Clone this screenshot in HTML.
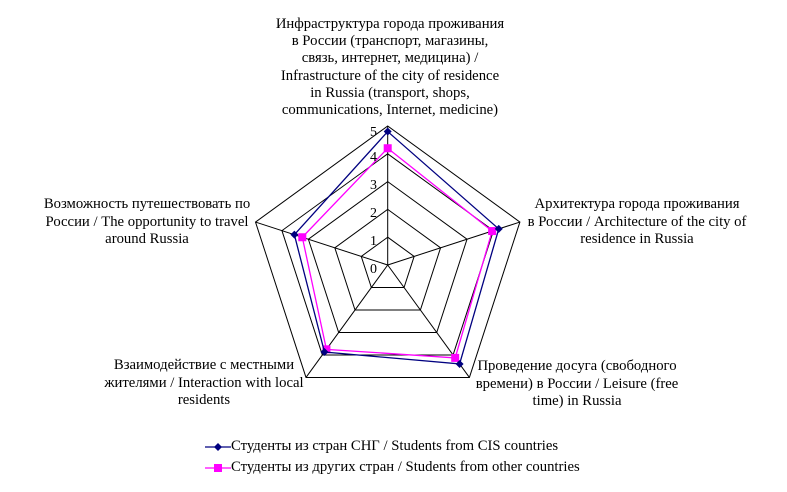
<!DOCTYPE html>
<html><head><meta charset="utf-8"><style>
html,body{margin:0;padding:0;background:#fff;}
body{width:787px;height:492px;position:relative;overflow:hidden;font-family:"Liberation Serif","DejaVu Serif",serif;color:#000;}
.l{position:absolute;font-size:14.7px;line-height:17.5px;text-align:center;white-space:nowrap;transform:translateX(-50%);font-family:"Liberation Serif",serif;}
svg{position:absolute;left:0;top:0;}
</style></head><body>
<svg id="s" width="787" height="492" viewBox="0 0 787 492">
<g font-family="Liberation Serif, serif" font-size="14" text-anchor="end">
<text x="377" y="136">5</text>
<text x="377" y="161">4</text>
<text x="377" y="189">3</text>
<text x="377" y="217">2</text>
<text x="377" y="245">1</text>
<text x="377" y="273">0</text>
</g>
</svg>
<div class="l" style="left:390px;top:16px;line-height:17.2px">Инфраструктура города проживания<br>в России (транспорт, магазины,<br>связь, интернет, медицина) /<br>Infrastructure of the city of residence<br>in Russia (transport, shops,<br>communications, Internet, medicine)</div>
<div class="l" style="left:637px;top:196px">Архитектура города проживания<br>в России / Architecture of the city of<br>residence in Russia</div>
<div class="l" style="left:147px;top:196px">Возможность путешествовать по<br>России / The opportunity to travel<br>around Russia</div>
<div class="l" style="left:204px;top:357px">Взаимодействие с местными<br>жителями / Interaction with local<br>residents</div>
<div class="l" style="left:474px;top:358px;transform:none;text-align:center;width:206px">Проведение досуга (свободного<br>времени) в России / Leisure (free<br>time) in Russia</div>
<div class="l" style="left:231px;top:438px;transform:none;text-align:left">Студенты из стран СНГ / Students from CIS countries</div>
<div class="l" style="left:231px;top:459px;transform:none;text-align:left">Студенты из других стран / Students from other countries</div>
<script>
var s=document.getElementById('s'),NS='http://www.w3.org/2000/svg';
var cx=387.7,cy=265,R=139;
function pt(i,v){var a=(-90+72*i)*Math.PI/180;return [cx+R*v/5*Math.cos(a),cy+R*v/5*Math.sin(a)];}
function el(t,a){var e=document.createElementNS(NS,t);for(var k in a)e.setAttribute(k,a[k]);s.insertBefore(e,s.firstChild);return e;}
var g=[];
for(var r=1;r<=5;r++){var p=[];for(var i=0;i<5;i++)p.push(pt(i,r).join(','));g.push(['polygon',{points:p.join(' '),fill:'none',stroke:'#000','stroke-width':1}]);}
for(var i=0;i<5;i++){var q=pt(i,5);g.push(['line',{x1:cx,y1:cy,x2:q[0],y2:q[1],stroke:'#000','stroke-width':1}]);}
var cis=[4.8,4.2,4.4,3.87,3.53],oth=[4.2,3.95,4.13,3.75,3.23];
function series(d,c,mk){var p=[];for(var i=0;i<5;i++)p.push(pt(i,d[i]).join(','));g.push(['polygon',{points:p.join(' '),fill:'none',stroke:c,'stroke-width':1.3}]);
for(var i=0;i<5;i++){var q=pt(i,d[i]);if(mk=='d')g.push(['polygon',{points:(q[0])+','+(q[1]-4)+' '+(q[0]+4)+','+q[1]+' '+q[0]+','+(q[1]+4)+' '+(q[0]-4)+','+q[1],fill:c}]);else g.push(['rect',{x:q[0]-4,y:q[1]-4,width:8,height:8,fill:c}]);}}
series(oth,'#ff00ff','s');series(cis,'#000080','d');
g.push(['line',{x1:205,y1:447,x2:231,y2:447,stroke:'#000080','stroke-width':1.3}]);
g.push(['polygon',{points:'218,443 222,447 218,451 214,447',fill:'#000080'}]);
g.push(['line',{x1:205,y1:468,x2:231,y2:468,stroke:'#ff00ff','stroke-width':1.3}]);
g.push(['rect',{x:214,y:464,width:8,height:8,fill:'#ff00ff'}]);
for(var j=g.length-1;j>=0;j--)el(g[j][0],g[j][1]);
</script>
</body></html>
